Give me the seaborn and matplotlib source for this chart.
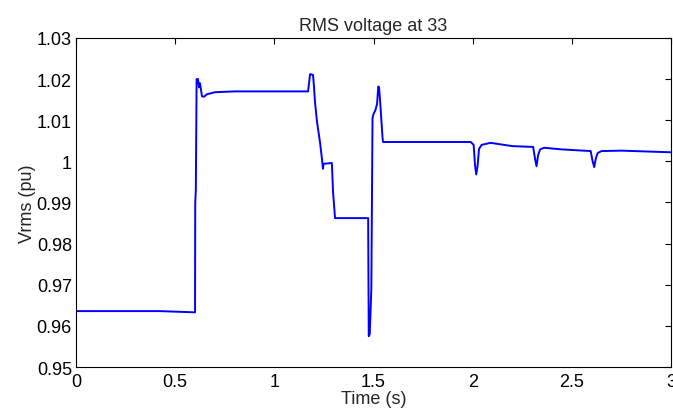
import numpy as np
import matplotlib
matplotlib.use("Agg")
import matplotlib.pyplot as plt
import pandas as pd
import seaborn as sns

# 读图得到的采样点 (时间 s, 电压 pu)
time_s = [0.0, 0.42, 0.600, 0.601, 0.604, 0.608, 0.612, 0.615, 0.620, 0.625,
          0.635, 0.645, 0.660, 0.700, 0.800, 1.170, 1.180, 1.195, 1.200, 1.205,
          1.215, 1.230, 1.240, 1.245, 1.248, 1.290, 1.296, 1.306, 1.473, 1.476,
          1.481, 1.489, 1.495, 1.500, 1.510, 1.518, 1.524, 1.528, 1.535, 1.545,
          1.548, 1.990, 2.005, 2.012, 2.018, 2.025, 2.032, 2.045, 2.090, 2.200,
          2.305, 2.315, 2.322, 2.330, 2.340, 2.360, 2.450, 2.595, 2.605, 2.613,
          2.620, 2.630, 2.650, 2.750, 3.000]
vrms_pu = [0.9636, 0.9636, 0.9633, 0.9900, 0.9930, 1.0200, 1.0195, 1.0200, 1.0180, 1.0190,
           1.0158, 1.0157, 1.0163, 1.0168, 1.0170, 1.0170, 1.0212, 1.0210, 1.0180, 1.0144,
           1.0096, 1.0047, 1.0006, 0.9982, 0.9994, 0.9996, 0.9925, 0.9862, 0.9862, 0.9575,
           0.9580, 0.9690, 1.0105, 1.0115, 1.0125, 1.0140, 1.0182, 1.0180, 1.0135, 1.0060,
           1.0047, 1.0047, 1.0040, 0.9990, 0.9968, 0.9990, 1.0030, 1.0040, 1.0045, 1.0037,
           1.0035, 1.0005, 0.9988, 1.0015, 1.0029, 1.0033, 1.0029, 1.0025, 1.0000, 0.9986,
           1.0005, 1.0020, 1.0025, 1.0026, 1.0022]

x_ticks = [0, 0.5, 1, 1.5, 2, 2.5, 3]
x_tick_labels = ["0", "0.5", "1", "1.5", "2", "2.5", "3"]
y_ticks = [0.95, 0.96, 0.97, 0.98, 0.99, 1.00, 1.01, 1.02, 1.03]
y_tick_labels = ["0.95", "0.96", "0.97", "0.98", "0.99", "1", "1.01", "1.02", "1.03"]


def draw_rms():
    sns.set_style("white")
    plt.rcParams['font.family'] = ['Liberation Sans', 'DejaVu Sans']
    df = pd.DataFrame({"t": time_s, "v": vrms_pu})

    fig = plt.figure(figsize=(6.73, 4.14), dpi=100)
    ax = fig.add_axes([0.113, 0.111, 0.884, 0.795])
    sns.lineplot(data=df, x="t", y="v", ax=ax, color="#0000ff",
                 linewidth=1.4, estimator=None)

    ax.set_xlim(0, 3)
    ax.set_ylim(0.95, 1.03)
    ax.set_xticks(x_ticks)
    ax.set_xticklabels(x_tick_labels)
    ax.set_yticks(y_ticks)
    ax.set_yticklabels(y_tick_labels)
    ax.tick_params(direction="in", length=4, width=0.8, labelsize=13,
                   top=True, right=True, colors="black", pad=3)
    ax.tick_params(axis="x", pad=4)
    for s in ax.spines.values():
        s.set_visible(True)
        s.set_color("black")
        s.set_linewidth(0.8)

    ax.set_title("RMS voltage at 33", fontsize=13, pad=6)
    ax.set_xlabel("Time (s)", fontsize=13, labelpad=0)
    ax.set_ylabel("Vrms (pu)", fontsize=13, labelpad=0.5)

    fig.savefig("out.png", dpi=100)
    return


if __name__ == '__main__':
    draw_rms()
